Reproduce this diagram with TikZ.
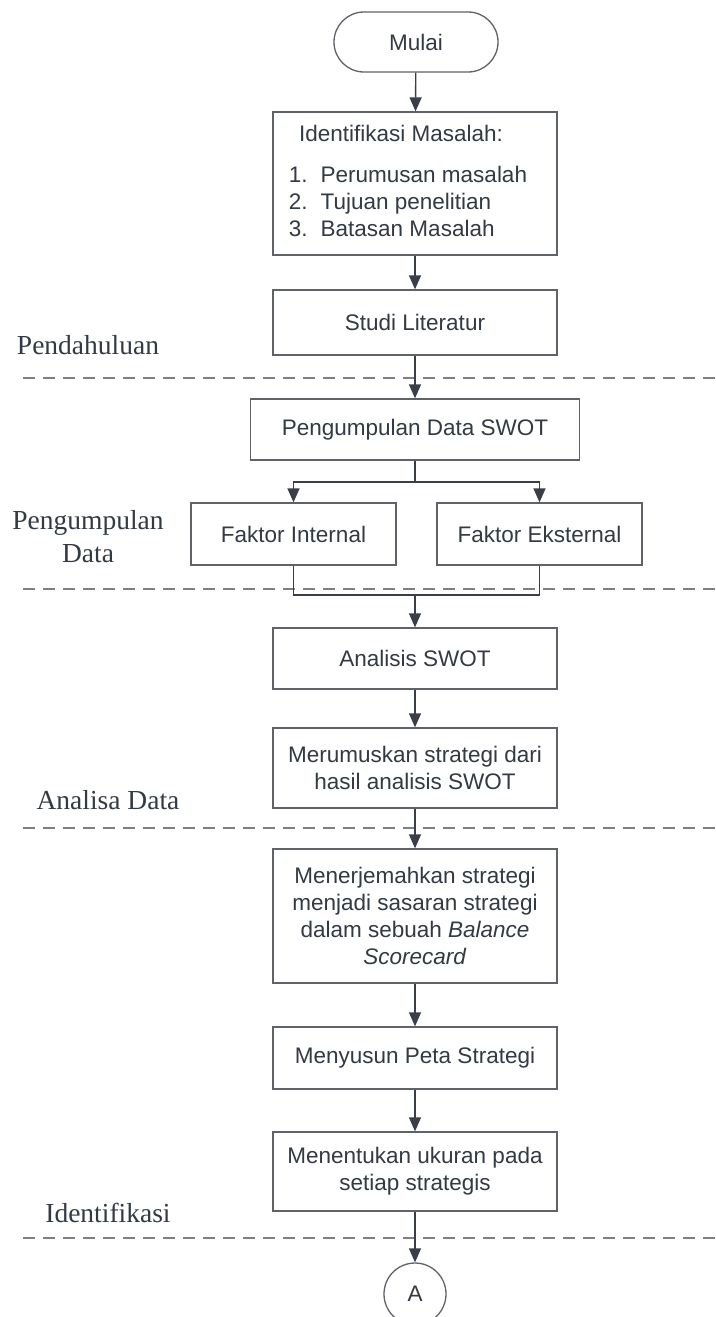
\documentclass[tikz,border=0pt]{standalone}
\usepackage{fontspec}
\setmainfont{Liberation Serif}
\newfontfamily\boxfont{Liberation Sans}
\usetikzlibrary{arrows.meta,calc}
\definecolor{txt}{HTML}{333A44}
\definecolor{linec}{HTML}{3A3F47}
\definecolor{boxc}{HTML}{5F6368}
\definecolor{dashc}{HTML}{808080}
\begin{document}
\begin{tikzpicture}[x=1pt,y=-1pt,
  box/.style={draw=boxc, line width=1.3pt, minimum width=284pt, inner sep=0pt, align=center,
    font=\boxfont\fontsize{22.5}{27}\selectfont, text=txt},
  arr/.style={draw=linec, line width=1.4pt, -{Triangle[width=12pt,length=14pt]}},
  ln/.style={draw=linec, line width=1.4pt},
  sep/.style={draw=dashc, line width=1.4pt, dash pattern=on 12pt off 8pt},
  lab/.style={font=\fontsize{27.5}{33}\selectfont, text=txt, align=center}]
\clip (0,0) rectangle (715,1317);
\fill[white] (0,0) rectangle (715,1317);

% separators
\draw[sep] (23,378) -- (715,378);
\draw[sep] (23,589) -- (715,589);
\draw[sep] (23,828) -- (715,828);
\draw[sep] (23,1238) -- (715,1238);

% phase labels
\node[lab] (l1) at (88,345) {Pendahuluan};
\node[lab] (l2) at (88,537) {Pengumpulan\\Data};
\node[lab] (l3) at (108,800) {Analisa Data};
\node[lab] (l4) at (108,1213) {Identifikasi};

% nodes
\node[box, rounded corners=30pt, minimum width=164pt, minimum height=60pt] (mulai) at (416,42) {Mulai};
\node[box, minimum height=143pt] (ident) at (415,183.5) {%
  \begin{tabular}{@{}l@{\hspace{13pt}}l@{}}
  \multicolumn{2}{c}{\hspace*{-14pt}Identifikasi Masalah:}\\[14pt]
  1.&Perumusan masalah\\
  2.&Tujuan penelitian\\
  3.&Batasan Masalah
  \end{tabular}\hspace*{14pt}};
\node[box, minimum height=65pt] (studi) at (415,322.5) {Studi Literatur};
\node[box, minimum width=329pt, minimum height=61pt] (swot) at (415,429.5) {Pengumpulan Data SWOT};
\node[box, minimum width=205pt, minimum height=62pt] (fi) at (293.5,534) {Faktor Internal};
\node[box, minimum width=205pt, minimum height=62pt] (fe) at (539.5,534) {Faktor Eksternal};
\node[box, minimum height=61pt] (anal) at (415,658.5) {Analisis SWOT};
\node[box, minimum height=80pt] (rumus) at (415,768) {Merumuskan strategi dari\\hasil analisis SWOT};
\node[box, minimum height=134pt] (terj) at (415,916) {Menerjemahkan strategi\\menjadi sasaran strategi\\dalam sebuah \textit{Balance}\\\textit{Scorecard}};
\node[box, minimum height=62pt] (susun) at (415,1058) {Menyusun Peta Strategi};
\node[box, minimum height=79pt] (tentu) at (415,1171.5) {Menentukan ukuran pada\\setiap strategis};
\node[box, circle, minimum width=62pt, minimum size=62pt] (A) at (415,1294) {A};

% connectors
\draw[arr] (mulai) -- (ident);
\draw[arr] (ident) -- (studi);
\draw[arr] (studi) -- (swot);
\coordinate (split) at (415,482);
\draw[ln] (swot.south) -- (split);
\draw[arr] (split) -| (fi.north);
\draw[arr] (split) -| (fe.north);
\coordinate (join) at (415,595);
\draw[ln] (fi.south) |- (join);
\draw[ln] (fe.south) |- (join);
\draw[arr] (join) -- (anal.north);
\draw[arr] (anal) -- (rumus);
\draw[arr] (rumus) -- (terj);
\draw[arr] (terj) -- (susun);
\draw[arr] (susun) -- (tentu);
\draw[arr] (tentu) -- (A);
\end{tikzpicture}
\end{document}
